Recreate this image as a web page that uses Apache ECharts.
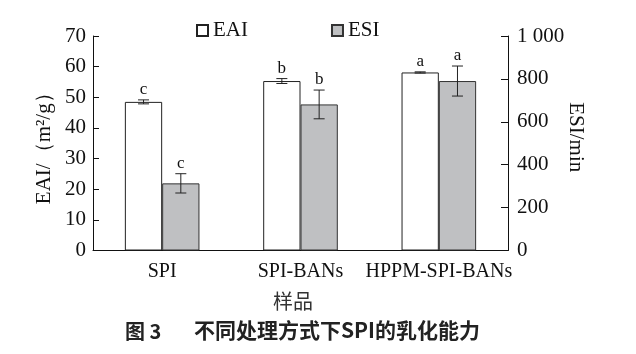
<!DOCTYPE html>
<html><head><meta charset="utf-8">
<script src="https://cdn.jsdelivr.net/npm/echarts@6/dist/echarts.min.js"></script>
<style>html,body{margin:0;padding:0;background:#fff}#c{width:636px;height:354px}</style>
</head><body><div id="c"></div>
<script>
const categories = ['SPI', 'SPI-BANs', 'HPPM-SPI-BANs'];
const eaiValues = [48.5, 55.3, 58.1];
const eaiErrors = [0.65, 0.8, 0.2];
const eaiLetters = ['c', 'b', 'a'];
const esiValues = [313, 681, 790];
const esiErrors = [45, 67, 70];
const esiLetters = ['c', 'b', 'a'];
const leftTicks = [0, 70, 10];
const rightTicks = [0, 1000, 200];

const serif = '"Liberation Serif","Times New Roman",serif';
const cjk = '"Noto Sans CJK SC",serif';
const chart = echarts.init(document.getElementById('c'));
const BW = 37.3;

function errSeries(name, vals, errs, letters, axisIdx, sign) {
  return {
    type: 'custom', name: name + '_err', yAxisIndex: axisIdx, z: 10, silent: true,
    data: vals.map((v, i) => [i, v, errs[i], letters[i]]),
    renderItem: function (params, api) {
      const i = api.value(0), v = api.value(1), e = api.value(2);
      const top = api.coord([i, v + e]);
      const bot = api.coord([i, v - e]);
      const x = top[0] + sign * BW / 2;
      const cap = 5.5;
      return {
        type: 'group', children: [
          { type: 'line', shape: { x1: x, y1: top[1], x2: x, y2: bot[1] }, style: { stroke: '#222', lineWidth: 1 } },
          { type: 'line', shape: { x1: x - cap, y1: top[1], x2: x + cap, y2: top[1] }, style: { stroke: '#222', lineWidth: 1 } },
          { type: 'line', shape: { x1: x - cap, y1: bot[1], x2: x + cap, y2: bot[1] }, style: { stroke: '#222', lineWidth: 1 } },
          { type: 'text', style: { text: letters[i], x: x, y: top[1] - 2, textAlign: 'center', textVerticalAlign: 'bottom', font: '17px ' + serif, fill: '#111' } }
        ]
      };
    }
  };
}

chart.setOption({
  animation: false,
  backgroundColor: '#fff',
  textStyle: { fontFamily: serif, color: '#111' },
  legend: {
    data: ['EAI', 'ESI'], left: 191, top: 15, icon: 'rect', itemWidth: 11, itemHeight: 11, itemGap: 83,
    textStyle: { fontFamily: serif, fontSize: 21, color: '#111' }
  },
  title: [{
    text: '图 3', left: 120, top: 316,
    textStyle: { fontFamily: cjk, fontWeight: 'bold', fontSize: 20, color: '#222' }
  }, {
    text: '不同处理方式下SPI的乳化能力', left: 189, top: 315,
    textStyle: { fontFamily: cjk, fontWeight: 'bold', fontSize: 21, color: '#222' }
  }, {
    text: '样品', left: 268, top: 286,
    textStyle: { fontFamily: cjk, fontWeight: 'normal', fontSize: 20, color: '#333' }
  }],
  grid: { left: 93, right: 128, top: 36, height: 214.5 },
  xAxis: {
    type: 'category', data: categories,
    axisLine: { lineStyle: { color: '#111', width: 1 } },
    axisTick: { inside: true, length: 4, lineStyle: { color: '#111' } },
    axisLabel: { interval: 0, fontFamily: serif, fontSize: 20, color: '#111', margin: 11 }
  },
  yAxis: [{
    type: 'value', min: leftTicks[0], max: leftTicks[1], interval: leftTicks[2],
    name: 'EAI/（m²/g）', nameLocation: 'middle', nameRotate: 90, nameGap: 38, nameMoveOverlap: false,
    nameTextStyle: { fontFamily: serif, fontSize: 21, color: '#111' },
    axisLine: { show: true, lineStyle: { color: '#111' } },
    axisTick: { show: true, inside: true, length: 6, lineStyle: { color: '#111' } },
    axisLabel: { fontFamily: serif, fontSize: 21, color: '#111', margin: 7 },
    splitLine: { show: false }
  }, {
    type: 'value', min: rightTicks[0], max: rightTicks[1], interval: rightTicks[2], position: 'right',
    name: 'ESI/min', nameLocation: 'middle', nameRotate: -90, nameGap: 57, nameMoveOverlap: false,
    nameTextStyle: { fontFamily: serif, fontSize: 21, color: '#111', padding: [0, 12, 0, 0] },
    axisLine: { show: true, lineStyle: { color: '#111' } },
    axisTick: { show: true, inside: true, length: 7, lineStyle: { color: '#111' } },
    axisLabel: { fontFamily: serif, fontSize: 21, color: '#111', margin: 9,
      formatter: v => v >= 1000 ? String(v).replace(/(\d)(\d{3})$/, '$1 $2') : String(v) },
    splitLine: { show: false }
  }],
  series: [
    { name: 'EAI', type: 'bar', yAxisIndex: 0, data: eaiValues, barWidth: BW, barGap: '0%',
      itemStyle: { color: '#fff', borderColor: '#222', borderWidth: 1 } },
    { name: 'ESI', type: 'bar', yAxisIndex: 1, data: esiValues, barWidth: BW,
      itemStyle: { color: '#bfc0c2', borderColor: '#333', borderWidth: 1 } },
    errSeries('EAI', eaiValues, eaiErrors, eaiLetters, 0, -1),
    errSeries('ESI', esiValues, esiErrors, esiLetters, 1, 1)
  ]
});
</script></body></html>
